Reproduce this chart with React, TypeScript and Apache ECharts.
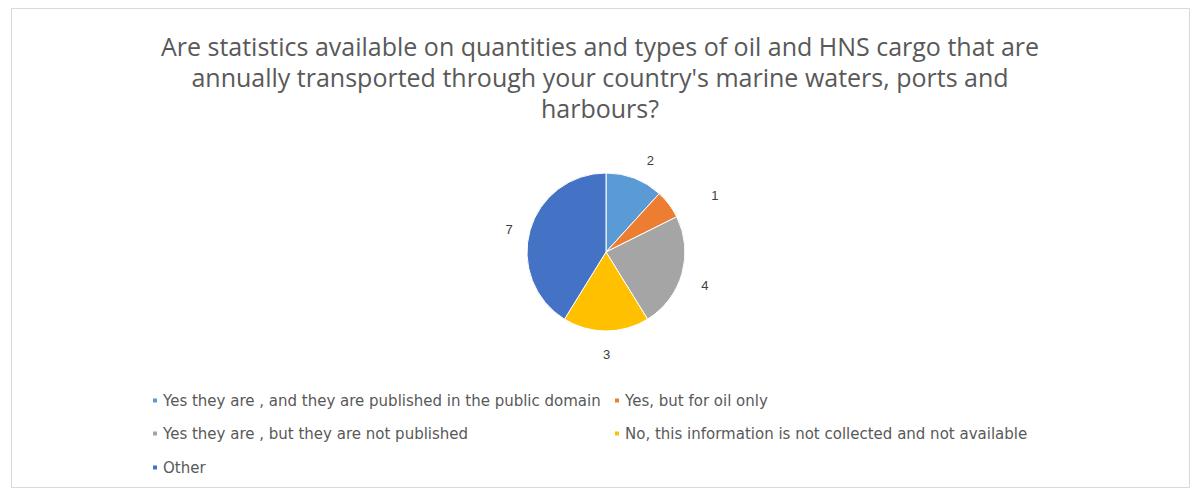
import React, { useEffect, useRef } from "react";
import * as echarts from "echarts";

const titleText =
  "Are statistics available on quantities and types of oil and HNS cargo that are\nannually transported through your country's marine waters, ports and\nharbours?";
const categories = [
  "Yes they are , and they are published in the public domain",
  "Yes, but for oil only",
  "Yes they are , but they are not published",
  "No, this information is not collected and not available",
  "Other",
];
const values = [2, 1, 4, 3, 7];
const colors = ["#5B9BD5", "#ED7D31", "#A5A5A5", "#FFC000", "#4472C4"];
const legendPos = [
  { left: 146, top: 388 },
  { left: 608, top: 388 },
  { left: 146, top: 421 },
  { left: 608, top: 421 },
  { left: 146, top: 455 },
];
const labelLen = [20, 38, 20, 20, 20];
const labelShift = [
  { dx: 5, dy: 1 },
  { dx: 12, dy: 14 },
  { dx: 0, dy: 6 },
  { dx: -3, dy: 3 },
  { dx: 2, dy: 5 },
];

export default function App() {
  const ref = useRef<HTMLDivElement>(null);
  useEffect(() => {
    const chart = echarts.init(ref.current!, undefined, { renderer: "svg" });
    chart.setOption({
      animation: false,
      backgroundColor: "#ffffff",
      color: colors,
      title: {
        text: titleText,
        left: "center",
        top: 25,
        textStyle: {
          fontFamily: "Open Sans",
          fontWeight: "normal",
          fontSize: 25,
          color: "#595959",
          lineHeight: 31,
        },
      },
      legend: categories.map((c, i) => ({
        data: [c],
        left: legendPos[i].left,
        top: legendPos[i].top,
        icon: "rect",
        itemWidth: 6,
        itemHeight: 6,
        itemGap: 4,
        selectedMode: false,
        textStyle: { fontFamily: "DejaVu Sans", fontSize: 15, color: "#595959" },
      })),
      graphic: [
        {
          type: "rect",
          shape: { x: 11.5, y: 8.5, width: 1178, height: 479 },
          style: { fill: "none", stroke: "#d9d9d9", lineWidth: 1 },
          silent: true,
        },
      ],
      series: [
        {
          type: "pie",
          center: [606, 252],
          radius: [0, 79],
          startAngle: 90,
          clockwise: true,
          data: categories.map((c, i) => ({
            name: c,
            value: values[i],
            labelLine: { show: false, length: labelLen[i], length2: 0 },
          })),
          itemStyle: { borderColor: "#ffffff", borderWidth: 1 },
          label: {
            show: true,
            position: "outside",
            formatter: "{c}",
            fontFamily: "Liberation Sans",
            fontSize: 13,
            color: "#404040",
            distanceToLabelLine: 0,
          },
          labelLine: { show: false, length: 20, length2: 0 },
          labelLayout: (p: any) => labelShift[p.dataIndex] || {},
        },
      ],
    });
    return () => chart.dispose();
  }, []);
  return (
    <div
      ref={ref}
      style={{ position: "absolute", left: 0, top: 0, width: 1200, height: 491 }}
    />
  );
}
